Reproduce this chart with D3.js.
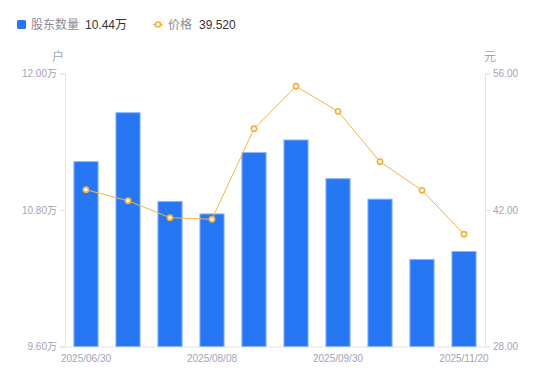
<!DOCTYPE html>
<html><head><meta charset="utf-8">
<script src="https://cdn.jsdelivr.net/npm/d3@7"></script>
<style>
body{margin:0;background:#fff;}
svg{display:block;font-family:"Liberation Sans","Noto Sans CJK SC",sans-serif;}
</style></head>
<body><svg id="c" width="550" height="381"></svg>
<script>
const categories = ["2025/06/30","2025/07/10","2025/07/31","2025/08/08","2025/08/20","2025/08/31","2025/09/30","2025/10/20","2025/10/31","2025/11/20"];
const holders = [11.23, 11.66, 10.88, 10.77, 11.31, 11.42, 11.08, 10.90, 10.37, 10.44];
const prices = [44.08, 42.95, 41.21, 41.05, 50.34, 54.69, 52.12, 46.95, 44.02, 39.52];
const leftTicks = [9.6, 10.8, 12.0];
const rightTicks = [28, 42, 56];
const shownDates = ["2025/06/30","2025/08/08","2025/09/30","2025/11/20"];

const svg = d3.select("#c");
const m = {l:65, r:485, t:73.5, b:346.5};
const x = d3.scaleBand().domain(categories).range([m.l, m.r]).paddingInner(0.4).paddingOuter(0.2);
const yL = d3.scaleLinear().domain([9.6, 12.0]).range([m.b, m.t]);
const yR = d3.scaleLinear().domain([28, 56]).range([m.b, m.t]);
const xc = d => x(d) + x.bandwidth()/2;

const axisCol = "#e3e3e8", labCol = "#a3a3b5";

// axes
const gL = svg.append("g").attr("transform",`translate(${m.l},0)`)
  .call(d3.axisLeft(yL).tickValues(leftTicks).tickSize(5).tickPadding(3).tickFormat(d=>d3.format(".2f")(d)+"万"));
const gR = svg.append("g").attr("transform",`translate(${m.r},0)`)
  .call(d3.axisRight(yR).tickValues(rightTicks).tickSize(5).tickPadding(3).tickFormat(d3.format(".2f")));
const gB = svg.append("g").attr("transform",`translate(0,${m.b})`)
  .call(d3.axisBottom(x).tickValues(shownDates).tickSize(0).tickPadding(6));
[gL,gR,gB].forEach(g=>{
  g.selectAll("path.domain").attr("stroke",axisCol);
  g.selectAll(".tick line").attr("stroke",axisCol);
  g.selectAll("text").attr("fill",labCol).attr("font-size",10).attr("font-family","Liberation Sans, Noto Sans CJK SC, sans-serif");
});
gB.selectAll("path.domain").attr("d",`M${m.l},0.5H${m.r}`);
gB.selectAll("text").attr("dy","0.9em");

// units
svg.append("text").attr("x",58).attr("y",61).attr("text-anchor","middle").attr("fill",labCol).attr("font-size",12).text("户");
svg.append("text").attr("x",490).attr("y",61).attr("text-anchor","middle").attr("fill",labCol).attr("font-size",12).text("元");

// bars
svg.append("g").selectAll("rect").data(holders).join("rect")
  .attr("x",(d,i)=>x(categories[i])+0.5)
  .attr("y",d=>yL(d)+0.5)
  .attr("width",x.bandwidth()-1)
  .attr("height",d=>m.b-yL(d)-0.5)
  .attr("fill","#2777f5").attr("stroke","#8db8fa").attr("stroke-width",1);

// line
const line = d3.line().x((d,i)=>xc(categories[i])).y(d=>yR(d));
svg.append("path").datum(prices).attr("d",line).attr("fill","none").attr("stroke","#f6b445").attr("stroke-width",1);
svg.append("g").selectAll("circle").data(prices).join("circle")
  .attr("cx",(d,i)=>xc(categories[i])).attr("cy",d=>yR(d)).attr("r",2.6)
  .attr("fill","#fff").attr("stroke","#f6b03a").attr("stroke-width",1.6);

// legend
const lg = svg.append("g");
lg.append("rect").attr("x",17).attr("y",20).attr("width",9).attr("height",9).attr("rx",1.5).attr("fill","#2777f5");
lg.append("text").attr("x",31).attr("y",29).attr("font-size",12).attr("fill","#8a8a99").text("股东数量");
lg.append("text").attr("x",85).attr("y",29).attr("font-size",12).attr("fill","#333").text(d3.format(".2f")(holders[holders.length-1])+"万");
lg.append("line").attr("x1",153).attr("x2",163).attr("y1",24.5).attr("y2",24.5).attr("stroke","#f6b445").attr("stroke-width",1.5);
lg.append("circle").attr("cx",158).attr("cy",24.5).attr("r",2.5).attr("fill","#fff").attr("stroke","#f6b03a").attr("stroke-width",1.6);
lg.append("text").attr("x",168).attr("y",29).attr("font-size",12).attr("fill","#8a8a99").text("价格");
lg.append("text").attr("x",199).attr("y",29).attr("font-size",12).attr("fill","#333").text(d3.format(".3f")(prices[prices.length-1]));
</script></body></html>
